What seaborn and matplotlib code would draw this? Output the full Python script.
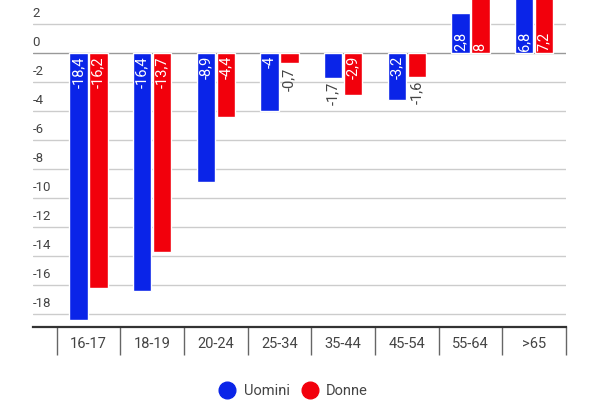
import numpy as np
import pandas as pd
import matplotlib.pyplot as plt
from matplotlib.lines import Line2D
import seaborn as sns

# --- dati ---
classi_eta = ['16-17', '18-19', '20-24', '25-34', '35-44', '45-54', '55-64', '>65']
uomini = [-18.4, -16.4, -8.9, -4, -1.7, -3.2, 2.8, 6.8]
donne = [-16.2, -13.7, -4.4, -0.7, -2.9, -1.6, 8, 7.2]
serie = ['Uomini', 'Donne']
colori = ['#0a24e8', '#f2000c']
y_ticks = [2, 0, -2, -4, -6, -8, -10, -12, -14, -16, -18]

df = pd.DataFrame({
    'Eta': classi_eta * 2,
    'Valore': uomini + donne,
    'Sesso': ['Uomini'] * len(uomini) + ['Donne'] * len(donne),
})

sns.set_theme(style='white')
plt.rcParams['font.family'] = ['Roboto', 'DejaVu Sans']

fig = plt.figure(figsize=(6, 4), dpi=100)
ax = fig.add_axes([0.0545, 0.1825, 0.8888, 0.8175])

sns.barplot(data=df, x='Eta', y='Valore', hue='Sesso', order=classi_eta,
            hue_order=serie, palette=colori, width=0.62, gap=0.07,
            saturation=1, legend=False, ax=ax, zorder=3)

ax.set_xlim(-0.877, 7.5)
ax.set_ylim(-18.88, 3.68)

# griglia orizzontale, etichette sopra le linee
for t in y_ticks:
    ax.axhline(t, color='#999999' if t == 0 else '#cccccc', lw=1, zorder=1)
    ax.annotate(str(t), xy=(0, t), xycoords=ax.get_yaxis_transform(),
                xytext=(0, 3), textcoords='offset points',
                ha='left', va='bottom', fontsize=9.5, color='#444444')
ax.set_yticks([])
ax.set_ylabel('')
ax.set_xlabel('')

# asse x con separatori tra le classi
ax.set_xticks(range(len(classi_eta)))
ax.set_xticklabels(classi_eta, fontsize=10.5, color='#444444')
ax.set_xticks(np.arange(-0.5, len(classi_eta), 1), minor=True)
ax.tick_params(axis='x', which='major', length=0, pad=7)
ax.tick_params(axis='x', which='minor', length=20, width=1, color='#666666',
               direction='out', bottom=True)
for s in ['top', 'right', 'left']:
    ax.spines[s].set_visible(False)
ax.spines['bottom'].set_color('#333333')
ax.spines['bottom'].set_linewidth(1.6)
ax.spines['bottom'].set_zorder(4)

# etichette dei valori (dentro la barra se c'e' spazio)
for cont in ax.containers:
    for patch in cont:
        v = patch.get_y() + patch.get_height() if patch.get_y() == 0 else patch.get_y()
        cx = patch.get_x() + patch.get_width() / 2
        testo = f'{v:g}'.replace('.', ',')
        if abs(v) >= 2:
            if v < 0:
                ax.annotate(testo, xy=(cx, 0), xytext=(0, -2), textcoords='offset points',
                            rotation=90, ha='center', va='top', color='white',
                            fontsize=10.5, zorder=5)
            else:
                ax.annotate(testo, xy=(cx, 0), xytext=(0, 2), textcoords='offset points',
                            rotation=90, ha='center', va='bottom', color='white',
                            fontsize=10.5, zorder=5)
        else:
            ax.annotate(testo, xy=(cx, v), xytext=(0, -3), textcoords='offset points',
                        rotation=90, ha='center', va='top', color='#444444',
                        fontsize=10.5, zorder=5)

# legenda
maniglie = [Line2D([], [], marker='o', ls='', markersize=12, color=c) for c in colori]
fig.legend(maniglie, serie, loc='center', bbox_to_anchor=(0.49, 0.0225), ncol=2,
           frameon=False, fontsize=10.5, labelcolor='#444444', handlelength=1.0,
           handletextpad=0.6, columnspacing=0.9, borderpad=0)

fig.savefig('out.png', dpi=100)
